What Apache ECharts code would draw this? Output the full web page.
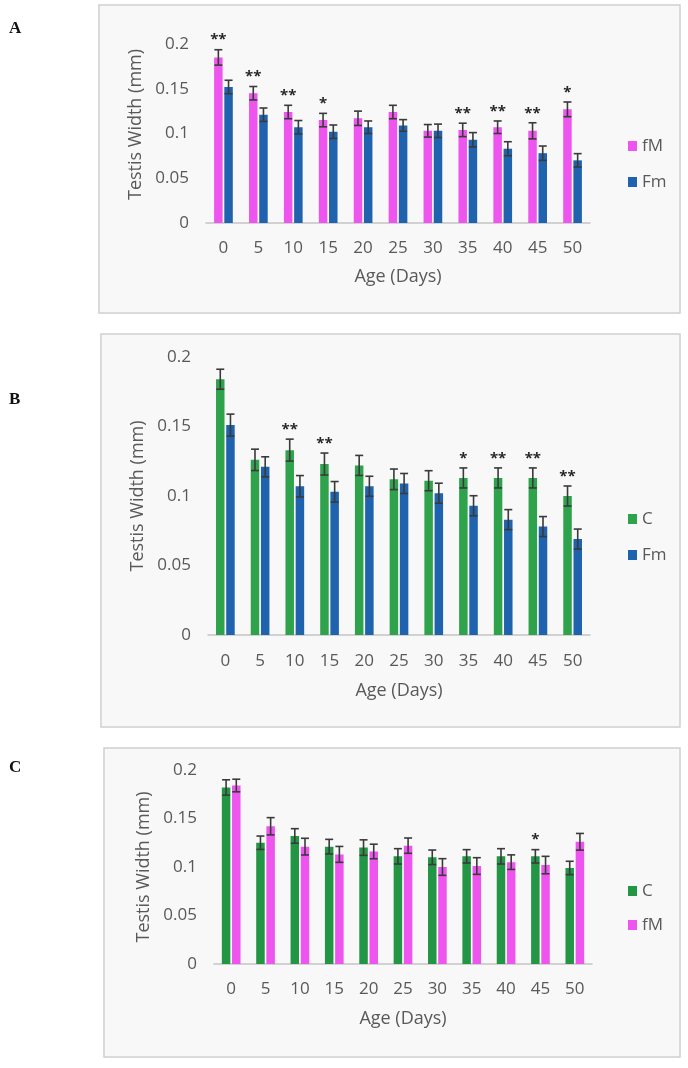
<!DOCTYPE html>
<html>
<head>
<meta charset="utf-8">
<script src="https://cdn.jsdelivr.net/npm/echarts@6/dist/echarts.min.js"></script>
<style>
  html, body { margin: 0; padding: 0; background: #ffffff; }
  #chart { width: 688px; height: 1068px; }
</style>
</head>
<body>
<div id="chart"></div>
<script>
// ---------- data ----------
const ages = ['0', '5', '10', '15', '20', '25', '30', '35', '40', '45', '50'];
const yTicks = [0, 0.05, 0.1, 0.15, 0.2];

// Panel A: fM vs Fm
const aFM      = [0.185, 0.145, 0.124, 0.115, 0.117, 0.124, 0.103, 0.104, 0.107, 0.103, 0.127];
const aFMerr   = [0.0086, 0.0075, 0.0075, 0.0075, 0.008, 0.0075, 0.007, 0.0075, 0.007, 0.009, 0.0082];
const aFm      = [0.152, 0.121, 0.107, 0.102, 0.107, 0.109, 0.103, 0.093, 0.083, 0.078, 0.070];
const aFmErr   = [0.0075, 0.0075, 0.0075, 0.0075, 0.007, 0.0065, 0.0075, 0.008, 0.0078, 0.008, 0.0075];
const aStars   = ['**', '**', '**', '*', '', '', '', '**', '**', '**', '*'];

// Panel B: C vs Fm
const bC       = [0.184, 0.126, 0.133, 0.123, 0.122, 0.112, 0.111, 0.113, 0.113, 0.113, 0.100];
const bCerr    = [0.0072, 0.0077, 0.0079, 0.0079, 0.0072, 0.0074, 0.0072, 0.0072, 0.0072, 0.0072, 0.0072];
const bFm      = [0.151, 0.121, 0.107, 0.103, 0.107, 0.109, 0.102, 0.093, 0.083, 0.078, 0.069];
const bFmErr   = [0.0079, 0.0072, 0.0077, 0.0074, 0.0072, 0.0072, 0.0072, 0.0072, 0.0072, 0.0072, 0.0072];
const bStars   = ['', '', '**', '**', '', '', '', '*', '**', '**', '**'];

// Panel C: C vs fM
const cC       = [0.182, 0.125, 0.132, 0.121, 0.120, 0.111, 0.110, 0.111, 0.111, 0.111, 0.099];
const cCerr    = [0.0079, 0.0069, 0.0075, 0.0075, 0.008, 0.0079, 0.0075, 0.0069, 0.0079, 0.0069, 0.0069];
const cFM      = [0.184, 0.142, 0.121, 0.113, 0.116, 0.122, 0.100, 0.101, 0.105, 0.102, 0.126];
const cFMerr   = [0.0065, 0.0089, 0.0086, 0.0082, 0.0075, 0.0079, 0.0086, 0.0086, 0.0075, 0.009, 0.0086];
const cStars   = ['', '', '', '', '', '', '', '', '', '*', ''];

// ---------- style ----------
const PINK = '#ee55ee';
const BLUE = '#1f63ae';
const GREEN_B = '#2ea34c';
const GREEN_C = '#229644';
const TXT = '#595959';
const FONT = 'Open Sans';
const BAR_W = 8.5;
const OFF = 5.1;  // half distance between bar centers

const grids = [
  { left: 206, top: 44,  width: 384, height: 179 },
  { left: 208, top: 357, width: 382, height: 278 },
  { left: 214, top: 770, width: 378, height: 194 }
];

function xAxisFor(i, labelMargin, nameGap) {
  return {
    type: 'category', gridIndex: i, data: ages,
    axisLine: { show: true, lineStyle: { color: '#c4c4c4', width: 1.5 } },
    axisTick: { show: false },
    axisLabel: { color: TXT, fontFamily: FONT, fontSize: 17, margin: labelMargin },
    name: 'Age (Days)', nameLocation: 'middle', nameGap: nameGap,
    nameTextStyle: { color: TXT, fontFamily: FONT, fontSize: 18 }
  };
}
function yAxisFor(i, nameGap, pad) {
  return {
    type: 'value', gridIndex: i, min: yTicks[0], max: yTicks[yTicks.length - 1], interval: 0.05,
    axisLine: { show: false }, axisTick: { show: false }, splitLine: { show: false },
    axisLabel: { color: TXT, fontFamily: FONT, fontSize: 17, margin: 17,
      formatter: v => String(+v.toFixed(2)) },
    name: 'Testis Width (mm)', nameLocation: 'middle', nameGap: nameGap, nameRotate: 90,
    nameTextStyle: { color: TXT, fontFamily: FONT, fontSize: 18, padding: pad }
  };
}

function barSeries(name, idx, data, color) {
  return {
    name: name, type: 'bar', xAxisIndex: idx, yAxisIndex: idx,
    data: data, barWidth: BAR_W, barGap: '20%',
    itemStyle: { color: color }, z: 2, animation: false
  };
}

function errSeries(idx, vals, errs, offset) {
  return {
    type: 'custom', xAxisIndex: idx, yAxisIndex: idx, z: 5, animation: false, silent: true,
    data: vals.map((v, i) => [i, v, errs[i]]),
    renderItem: function (params, api) {
      const i = api.value(0), v = api.value(1), e = api.value(2);
      const top = api.coord([i, v + e]);
      const bot = api.coord([i, v - e]);
      const x = top[0] + offset;
      const cw = 4;
      const style = { stroke: '#3a3a3a', lineWidth: 1.6 };
      return {
        type: 'group',
        children: [
          { type: 'line', shape: { x1: x, y1: top[1], x2: x, y2: bot[1] }, style: style },
          { type: 'line', shape: { x1: x - cw, y1: top[1], x2: x + cw, y2: top[1] }, style: style },
          { type: 'line', shape: { x1: x - cw, y1: bot[1], x2: x + cw, y2: bot[1] }, style: style }
        ]
      };
    }
  };
}

function starSeries(idx, tops, stars, offset) {
  return {
    type: 'custom', xAxisIndex: idx, yAxisIndex: idx, z: 6, animation: false, silent: true,
    data: tops.map((t, i) => [i, t]),
    renderItem: function (params, api) {
      const p = api.coord([api.value(0), api.value(1)]);
      const s = stars[params.dataIndex];
      if (!s) return null;
      return {
        type: 'text',
        style: {
          text: s, x: p[0] + offset, y: p[1] - 2,
          textAlign: 'center', textVerticalAlign: 'bottom',
          fill: '#262626', font: 'bold 15px "Open Sans"'
        }
      };
    }
  };
}

function legendFor(top, items, gap) {
  return {
    orient: 'vertical', left: 623, top: top, itemWidth: 9, itemHeight: 10, itemGap: gap,
    icon: 'rect', selectedMode: false,
    textStyle: { color: TXT, fontFamily: FONT, fontSize: 17, lineHeight: 18 },
    data: items
  };
}

const sumArr = (v, e) => v.map((x, i) => x + e[i]);

const option = {
  backgroundColor: '#ffffff',
  animation: false,
  grid: grids,
  xAxis: [xAxisFor(0, 17, 45), xAxisFor(1, 18, 47), xAxisFor(2, 17, 46)],
  yAxis: [yAxisFor(0, 56, [0, 0, 0, 18]), yAxisFor(1, 56, 0), yAxisFor(2, 58, 0)],
  legend: [
    legendFor(132, [{ name: 'fM', itemStyle: { color: PINK } }, { name: 'Fm', itemStyle: { color: BLUE } }], 18),
    legendFor(505, [{ name: 'C', itemStyle: { color: GREEN_B } }, { name: 'Fm', itemStyle: { color: BLUE } }], 18),
    legendFor(877, [{ name: 'C', itemStyle: { color: GREEN_C } }, { name: 'fM', itemStyle: { color: PINK } }], 16)
  ],
  graphic: [
    { type: 'rect', z: -10, shape: { x: 99, y: 5, width: 581, height: 308 },
      style: { fill: '#f8f8f8', stroke: '#cfcfcf', lineWidth: 1.5 } },
    { type: 'rect', z: -10, shape: { x: 101, y: 334, width: 579, height: 393 },
      style: { fill: '#f8f8f8', stroke: '#cfcfcf', lineWidth: 1.5 } },
    { type: 'rect', z: -10, shape: { x: 104, y: 748, width: 576, height: 309 },
      style: { fill: '#f8f8f8', stroke: '#cfcfcf', lineWidth: 1.5 } },
    { type: 'text', left: 9, top: 20, style: { text: 'A', fill: '#111', font: 'bold 17px "Liberation Serif"' } },
    { type: 'text', left: 9, top: 391, style: { text: 'B', fill: '#111', font: 'bold 17px "Liberation Serif"' } },
    { type: 'text', left: 9, top: 759, style: { text: 'C', fill: '#111', font: 'bold 17px "Liberation Serif"' } }
  ],
  series: [
    barSeries('fM', 0, aFM, PINK),
    barSeries('Fm', 0, aFm, BLUE),
    errSeries(0, aFM, aFMerr, -OFF),
    errSeries(0, aFm, aFmErr, OFF),
    starSeries(0, sumArr(aFM, aFMerr), aStars, -OFF),

    barSeries('C', 1, bC, GREEN_B),
    barSeries('Fm', 1, bFm, BLUE),
    errSeries(1, bC, bCerr, -OFF),
    errSeries(1, bFm, bFmErr, OFF),
    starSeries(1, sumArr(bC, bCerr), bStars, -OFF),

    barSeries('C', 2, cC, GREEN_C),
    barSeries('fM', 2, cFM, PINK),
    errSeries(2, cC, cCerr, -OFF),
    errSeries(2, cFM, cFMerr, OFF),
    starSeries(2, sumArr(cC, cCerr), cStars, -OFF)
  ]
};

const chart = echarts.init(document.getElementById('chart'), null, { renderer: 'canvas' });
chart.setOption(option);
</script>
</body>
</html>
